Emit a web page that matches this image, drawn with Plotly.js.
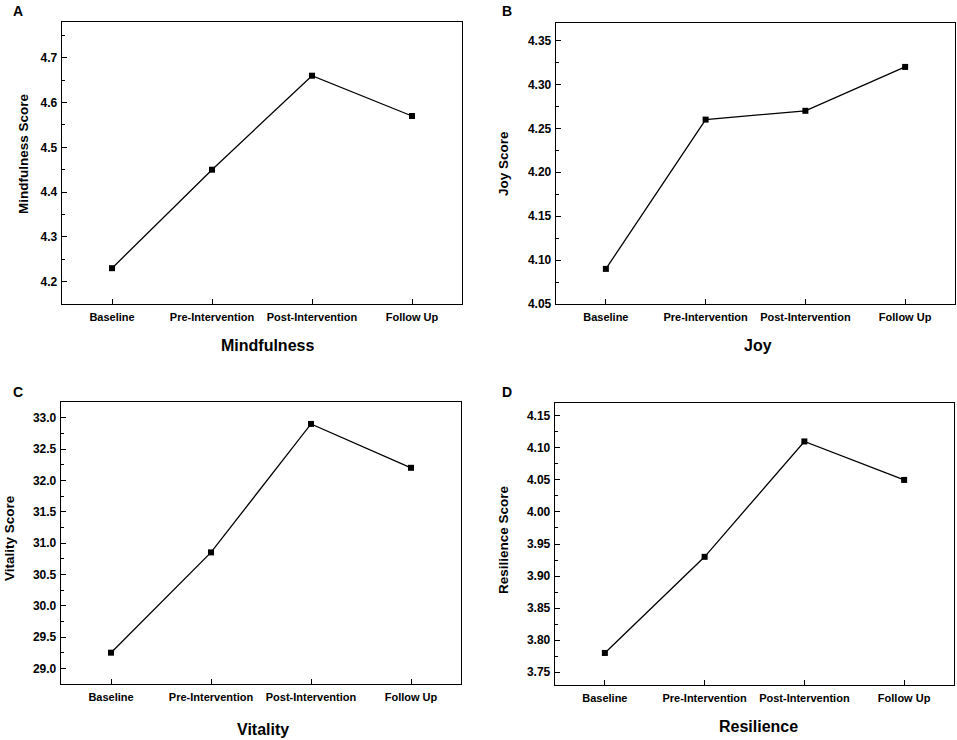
<!DOCTYPE html>
<html>
<head>
<meta charset="utf-8">
<script src="https://cdn.plot.ly/plotly-3.0.1.min.js"></script>
<style>
  html, body { margin: 0; padding: 0; background: #fff; }
  #chart { width: 957px; height: 740px; }
</style>
</head>
<body>
<div id="chart"></div>
<script>
// time points shared by all four panels
var phases = ['Baseline', 'Pre-Intervention', 'Post-Intervention', 'Follow Up'];

// mean scores
var mindfulness = [4.23, 4.45, 4.66, 4.57];
var joy = [4.09, 4.26, 4.27, 4.32];
var vitality = [29.25, 30.85, 32.9, 32.2];
var resilience = [3.78, 3.93, 4.11, 4.05];

var panelNames = ['Mindfulness', 'Joy', 'Vitality', 'Resilience'];
var panelLetters = ['A', 'B', 'C', 'D'];

var W = 957, H = 740;
var font = 'Liberation Sans, Arial, sans-serif';

// pixel boxes of each plot area: [left, right, top, bottom]
var boxes = [
  [62, 462, 22, 304],
  [556, 955, 23, 304],
  [61, 461, 402, 684],
  [555, 954, 403, 685]
];
var yRanges = [[4.15, 4.78], [4.05, 4.37], [28.75, 33.25], [3.73, 4.17]];
var yTicks = [[0.1, '.1f'], [0.05, '.2f'], [0.5, '.1f'], [0.05, '.2f']];

var series = [mindfulness, joy, vitality, resilience];

var data = [];
var layout = {
  width: W,
  height: H,
  margin: {l: 0, r: 0, t: 0, b: 0},
  paper_bgcolor: '#fff',
  plot_bgcolor: '#fff',
  showlegend: false,
  font: {family: font, color: '#000'},
  annotations: []
};

for (var i = 0; i < 4; i++) {
  var n = i === 0 ? '' : String(i + 1);
  data.push({
    x: phases,
    y: series[i],
    xaxis: 'x' + n,
    yaxis: 'y' + n,
    type: 'scatter',
    mode: 'lines+markers',
    line: {color: '#000', width: 1.3},
    marker: {symbol: 'square', size: 6, color: '#000'},
    hoverinfo: 'x+y'
  });

  var b = boxes[i];
  layout['xaxis' + n] = {
    domain: [b[0] / W, b[1] / W],
    anchor: 'y' + n,
    type: 'category',
    range: [-0.5, 3.5],
    showline: true, linecolor: '#000', linewidth: 1.3, mirror: true,
    showgrid: false, zeroline: false,
    ticks: 'inside', ticklen: 5, tickcolor: '#000', tickwidth: 1,
    ticklabelstandoff: 2,
    tickfont: {family: font, size: 11, color: '#000', weight: 'bold'}
  };
  layout['yaxis' + n] = {
    domain: [1 - b[3] / H, 1 - b[2] / H],
    anchor: 'x' + n,
    range: yRanges[i],
    dtick: yTicks[i][0],
    tick0: 0,
    tickformat: yTicks[i][1],
    showline: true, linecolor: '#000', linewidth: 1.3, mirror: true,
    showgrid: false, zeroline: false,
    ticks: 'inside', ticklen: 5, tickcolor: '#000', tickwidth: 1,
    minor: {dtick: yTicks[i][0] / 2, ticks: 'inside', ticklen: 3, tickcolor: '#000', showgrid: false},
    ticklabelstandoff: 1,
    tickfont: {family: font, size: 12, color: '#000', weight: 'bold'}
  };
}

// titles and panel letters, placed in page pixels
function note(text, x, y, size, angle) {
  layout.annotations.push({
    text: text,
    xref: 'paper', yref: 'paper',
    x: x / W, y: 1 - y / H,
    xanchor: 'center', yanchor: 'middle',
    showarrow: false,
    textangle: angle || 0,
    font: {family: font, size: size, color: '#000', weight: 'bold'}
  });
}

var xTitlePos = [[267, 345], [758, 345], [263, 729], [758, 726]];
var yTitlePos = [[23, 154], [504, 164], [9, 538], [503, 540]];
var letterPos = [[18, 11], [507, 11], [18, 392], [507, 392]];

for (var j = 0; j < 4; j++) {
  note(panelNames[j], xTitlePos[j][0], xTitlePos[j][1], 16);
  note(panelNames[j] + ' Score', yTitlePos[j][0], yTitlePos[j][1], 13.5, -90);
  note(panelLetters[j], letterPos[j][0], letterPos[j][1], 14);
}

Plotly.newPlot('chart', data, layout, {displayModeBar: false, staticPlot: true});
</script>
</body>
</html>
